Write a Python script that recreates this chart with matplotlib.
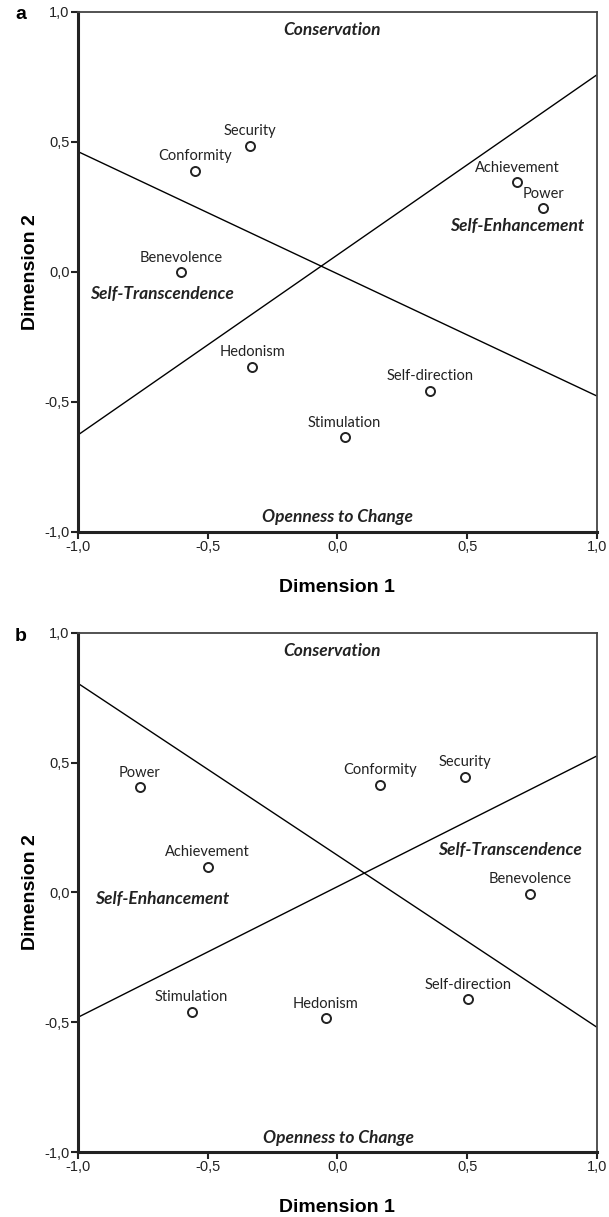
import numpy as np
import matplotlib
matplotlib.use("Agg")
import matplotlib.pyplot as plt

plt.rcParams['font.family'] = ['Liberation Sans', 'DejaVu Sans']

# panel a
names_a = ['Security', 'Conformity', 'Achievement', 'Power', 'Benevolence',
           'Hedonism', 'Self-direction', 'Stimulation']
x_a = [-0.337, -0.550, 0.694, 0.793, -0.604, -0.328, 0.356, 0.028]
y_a = [0.485, 0.387, 0.344, 0.244, -0.002, -0.365, -0.458, -0.637]
lines_a = [(0.462, -0.478), (-0.628, 0.757)]  # y at x=-1 and x=1
regions_a = ['Conservation', 'Self-Enhancement', 'Self-Transcendence', 'Openness to Change']
region_x_a = [-0.02, 0.693, -0.677, 0.0]
region_y_a = [0.93, 0.176, -0.087, -0.943]

# panel b
names_b = ['Power', 'Achievement', 'Conformity', 'Security', 'Benevolence',
           'Stimulation', 'Hedonism', 'Self-direction']
x_b = [-0.761, -0.500, 0.165, 0.490, 0.742, -0.562, -0.045, 0.503]
y_b = [0.405, 0.099, 0.414, 0.446, -0.004, -0.459, -0.485, -0.412]
lines_b = [(0.806, -0.519), (-0.481, 0.526)]
regions_b = ['Conservation', 'Self-Transcendence', 'Self-Enhancement', 'Openness to Change']
region_x_b = [-0.02, 0.665, -0.677, 0.005]
region_y_b = [0.932, 0.164, -0.026, -0.946]

ticks = [-1.0, -0.5, 0.0, 0.5, 1.0]
tick_labels = ['-1,0', '-0,5', '0,0', '0,5', '1,0']

label_font = 'Lato'

fig = plt.figure(figsize=(6.09, 12.17), dpi=100)
ax_a = fig.add_axes([0.128, 0.5631, 0.852, 0.4273])
ax_b = fig.add_axes([0.128, 0.0534, 0.852, 0.4265])


def draw(ax, names, xs, ys, lines, regions, rx, ry, letter):
    xl = np.array([-1.0, 1.0])
    for l in lines:
        ax.plot(xl, l, color='black', lw=1.0, solid_capstyle='butt')
    ax.plot(xs, ys, 'o', ms=6.5, mfc='white', mec='#222222', mew=1.4, zorder=3)
    for n, x, y in zip(names, xs, ys):
        ax.annotate(n, (x, y), xytext=(0, 5.5), textcoords='offset points',
                    ha='center', va='bottom', fontsize=10.5, color='#222222',
                    family=label_font)
    for r, x, y in zip(regions, rx, ry):
        ax.text(x, y, r, ha='center', va='center', fontsize=12.5,
                fontweight='bold', fontstyle='italic', color='#222222',
                family=label_font)
    ax.set_xlim(-1, 1)
    ax.set_ylim(-1, 1)
    ax.set_xticks(ticks)
    ax.set_xticklabels(tick_labels)
    ax.set_yticks(ticks)
    ax.set_yticklabels(tick_labels)
    ax.tick_params(direction='out', length=5, width=1.5, labelsize=10.5,
                   colors='#222222', pad=1)
    for s in ['left', 'bottom']:
        ax.spines[s].set_linewidth(2.2)
        ax.spines[s].set_color('#222222')
    for s in ['top', 'right']:
        ax.spines[s].set_linewidth(1.3)
        ax.spines[s].set_color('#444444')
    ax.set_xlabel('Dimension 1', fontsize=14, fontweight='bold', labelpad=18)
    ax.set_ylabel('Dimension 2', fontsize=14, fontweight='bold', labelpad=4)
    ax.text(-0.121, 0.994, letter, transform=ax.transAxes, fontsize=14,
            fontweight='bold', ha='left', va='center')


draw(ax_a, names_a, x_a, y_a, lines_a, regions_a, region_x_a, region_y_a, 'a')
draw(ax_b, names_b, x_b, y_b, lines_b, regions_b, region_x_b, region_y_b, 'b')

fig.savefig('out.png', dpi=100)
